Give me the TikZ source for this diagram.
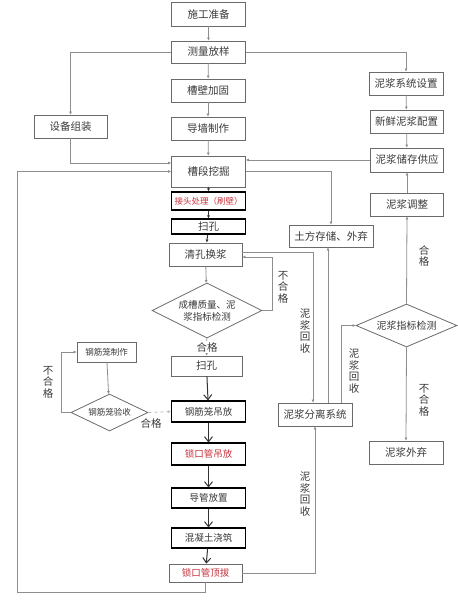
\documentclass[tikz,border=0pt]{standalone}
\usepackage{fontspec}
\usepackage{tikz}
\usetikzlibrary{arrows.meta,positioning,shapes.geometric}
\newfontfamily\cjk{Noto Sans CJK SC}
\definecolor{boxline}{HTML}{6A6A6A}
\definecolor{gline}{HTML}{8E8E8E}
\definecolor{txt}{HTML}{3A3A3A}
\definecolor{redtxt}{HTML}{C8323C}

\begin{document}
\begin{tikzpicture}[x=1pt,y=-1pt,>=Latex,
  box/.style={draw=boxline,line width=0.8pt,fill=white,align=center,text=txt,inner sep=1pt,
    font=\cjk\fontsize{10.5}{12}\selectfont,minimum width=74pt,minimum height=23pt},
  bbox/.style={box,draw=black,line width=1.1pt},
  dia/.style={draw=boxline,line width=0.8pt,fill=white,diamond,aspect=2,inner sep=0pt,align=center,
    text=txt,font=\cjk\fontsize{9.5}{12}\selectfont},
  lbl/.style={text=txt,align=center,inner sep=1pt,font=\cjk\fontsize{10.5}{11.5}\selectfont},
  garrow/.style={draw=gline,line width=0.8pt,-{Latex[length=3pt,width=3pt]}},
  barrow/.style={draw=black!80,line width=1pt,-{Straight Barb[length=5pt,width=8pt]}},
  sarrow/.style={draw=black!80,line width=1pt,-{Latex[length=3pt,width=3pt]}}]
\useasboundingbox (0,0) rectangle (458,600);

% main column
\node[box,minimum height=24pt] (prep) at (208.5,14) {施工准备};
\node[box,minimum height=22pt] (survey) at (208.5,52) {测量放样};
\node[box] (wall) at (208,90.5) {槽壁加固};
\node[box] (guide) at (208,128.5) {导墙制作};
\node[box,minimum height=31pt] (dig) at (208.5,171.5) {槽段挖掘};
\node[bbox,minimum height=18pt,text=redtxt,font=\cjk\fontsize{8.5}{10}\selectfont] (joint) at (208.5,201) {接头处理（刷壁）};
\node[bbox,minimum height=15pt] (sweepa) at (208.5,226.5) {扫孔};
\node[box,minimum width=73pt] (clean) at (205.5,254.5) {清孔换浆};
\node[dia,minimum width=110pt,minimum height=55pt] (check) at (207,310.5) {成槽质量、泥\\浆指标检测};
\node[box,minimum width=71pt,minimum height=20pt] (sweepb) at (206.5,366) {扫孔};
\node[bbox,minimum height=21pt,font=\cjk\fontsize{9.5}{12}\selectfont] (cage) at (208.5,411.5) {钢筋笼吊放};
\node[bbox,minimum height=22pt,text=redtxt,font=\cjk\fontsize{9.5}{12}\selectfont] (lock) at (208.5,454) {锁口管吊放};
\node[bbox,minimum height=20pt,font=\cjk\fontsize{9.5}{12}\selectfont] (pipe) at (208.5,498) {导管放置};
\node[bbox,minimum height=20pt,font=\cjk\fontsize{9.5}{12}\selectfont] (pour) at (208.5,538) {混凝土浇筑};
\node[box,minimum width=73pt,minimum height=18pt,text=redtxt,font=\cjk\fontsize{9.5}{12}\selectfont] (pull) at (205.5,573) {锁口管顶拔};

% left side
\node[box,minimum width=73pt] (equip) at (70.5,126.5) {设备组装};
\node[box,minimum width=59pt,minimum height=20pt,font=\cjk\fontsize{8.5}{10}\selectfont] (cagemake) at (106.5,352) {钢筋笼制作};
\node[dia,minimum width=77pt,minimum height=37pt,font=\cjk\fontsize{8.5}{10}\selectfont] (cagecheck) at (109.5,412.5) {钢筋笼验收};

% right side
\node[box] (slurryset) at (406,83.5) {泥浆系统设置};
\node[box,minimum width=73pt] (fresh) at (406.5,121.5) {新鲜泥浆配置};
\node[box,minimum width=73pt,minimum height=24pt] (store) at (407,160) {泥浆储存供应};
\node[box,minimum width=73pt] (adjust) at (407,204.5) {泥浆调整};
\node[box,minimum width=84pt,minimum height=22pt] (soil) at (331,236) {土方存储、外弃};
\node[dia,minimum width=101pt,minimum height=43pt,font=\cjk\fontsize{10}{12}\selectfont] (slcheck) at (406.5,325.5) {泥浆指标检测};
\node[box] (sep) at (315,414.5) {泥浆分离系统};
\node[box] (waste) at (406,452.5) {泥浆外弃};

\coordinate (loopcorner) at (17,592);

% connectors
\draw[garrow] (prep) -- (survey);
\draw[garrow] (survey) -- (wall);
\draw[garrow] (wall) -- (guide);
\draw[garrow] (guide) -- (dig);
\draw[garrow] (survey.west) -| (equip.north);
\draw[garrow] (survey.east) -| (slurryset.north);
\draw[garrow] (equip.south) |- ([yshift=8.5pt]dig.west);
\draw[garrow] (pull.south) |- (loopcorner) |- (dig.west);
\draw[garrow] (store.west) -- (store.west -| dig.east);
\draw[garrow] (dig.east) -| (soil.north);
\draw[garrow] (slurryset) -- (fresh);
\draw[garrow] (fresh) -- (store);
\draw[garrow] (adjust) -- (store);
\draw[garrow] (slcheck.north) -- (adjust.south);
\draw[garrow] (slcheck.south) -- (waste.north);
\node[lbl] (okc) at (424,256) {合\\格};
\node[lbl] (nokc) at (424,400) {不\\合\\格};

\draw[sarrow] (dig) -- (joint);
\draw[sarrow] (joint) -- (sweepa);
\draw[sarrow] (sweepa) -- (clean);
\draw[garrow] (clean) -- (check);
\draw[garrow] (check.east) -- ++(10,0) |- ([yshift=-2.5pt]clean.east);
\node[lbl] (nok) at (283,287) {不\\合\\格};
\draw[garrow] ([yshift=2.5pt]clean.east) -| ([xshift=-2pt]sep.north);
\node[lbl] (reca) at (305,331) {泥\\浆\\回\\收};
\draw[garrow] ([xshift=13pt]sep.north) -- ([xshift=13pt]sep.north |- soil.south);
\draw[garrow] ([xshift=26pt]sep.north) |- (slcheck.west);
\node[lbl] (recb) at (354,371) {泥\\浆\\回\\收};

\draw[garrow] (check) -- (sweepb);
\node[lbl,fill=white] (ok) at (207,347) {合格};
\draw[barrow] (sweepb) -- (cage);
\draw[barrow] (cage) -- (lock);
\draw[barrow] (lock) -- (pipe);
\draw[barrow] (pipe) -- (pour);
\draw[barrow] (pour) -- (pull);

\draw[garrow] (cagemake) -- (cagecheck);
\draw[garrow] (cagecheck.west) -- ++(-9,0) |- (cagemake.west);
\node[lbl] (nokb) at (48,382) {不\\合\\格};
\draw[garrow,draw=gline!60,dashed] (cagecheck.east) -- (cage.west);
\node[lbl] (okb) at (151,423) {合格};

\draw[garrow] (pull.east) -| (sep.south);
\node[lbl] (recc) at (305,494) {泥\\浆\\回\\收};
\end{tikzpicture}
\end{document}
